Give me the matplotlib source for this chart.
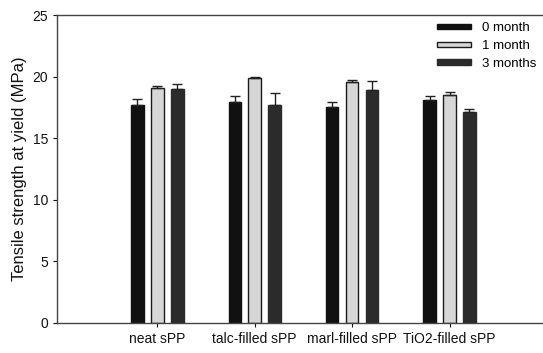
import matplotlib
matplotlib.use('Agg')
import matplotlib.pyplot as plt
import numpy as np

plt.rcParams['font.family'] = ['Liberation Sans', 'DejaVu Sans']

categories = ['neat sPP', 'talc-filled sPP', 'marl-filled sPP', 'TiO2-filled sPP']
series = ['0 month', '1 month', '3 months']
means = {
    '0 month': [17.7, 17.9, 17.5, 18.1],
    '1 month': [19.1, 19.85, 19.6, 18.5],
    '3 months': [19.0, 17.7, 18.9, 17.1],
}
errs = {
    '0 month': [0.5, 0.55, 0.45, 0.35],
    '1 month': [0.15, 0.15, 0.1, 0.25],
    '3 months': [0.4, 0.95, 0.75, 0.3],
}
yticks = [0, 5, 10, 15, 20, 25]

face = {'0 month': '#111111', '1 month': '#d6d6d6', '3 months': '#2b2b2b'}
edge = {'0 month': '#111111', '1 month': '#1a1a1a', '3 months': '#2b2b2b'}

def main():
    fig = plt.figure(figsize=(5.43, 3.53), dpi=100)
    ax = fig.add_axes([0.105, 0.085, 0.895, 0.8725])

    x = np.arange(len(categories))
    width = 0.128
    step = 0.205
    for i, s in enumerate(series):
        pos = x + (i - 1) * step
        ax.bar(pos, means[s], width, color=face[s], edgecolor=edge[s],
               linewidth=1.0, label=s, zorder=2)
        ax.errorbar(pos, means[s], yerr=[np.zeros(len(pos)), errs[s]],
                    fmt='none', ecolor='#222222', elinewidth=1.0,
                    capsize=3.5, capthick=1.0, zorder=3)

    ax.set_xlim(-1.03, 3.96)
    ax.set_ylim(0, 25)
    ax.set_yticks(yticks)
    ax.set_xticks(x)
    ax.set_xticklabels(categories, fontsize=10, color='#111111')
    ax.tick_params(axis='y', labelsize=10, colors='#111111', length=3, width=0.8)
    ax.tick_params(axis='x', length=3, width=0.8, colors='#111111')
    ax.set_ylabel('Tensile strength at yield (MPa)', fontsize=12, color='#111111', labelpad=4)

    ax.spines['right'].set_visible(False)
    for sp in ['left', 'top', 'bottom']:
        ax.spines[sp].set_color('#444444')
        ax.spines[sp].set_linewidth(1.0)

    ax.legend(loc='upper right', frameon=False, fontsize=9.5,
              handlelength=2.6, handleheight=0.3, handletextpad=0.8,
              labelspacing=0.45, bbox_to_anchor=(1.01, 1.015))

    plt.savefig('out.png', dpi=100)


if __name__ == '__main__':
    main()
